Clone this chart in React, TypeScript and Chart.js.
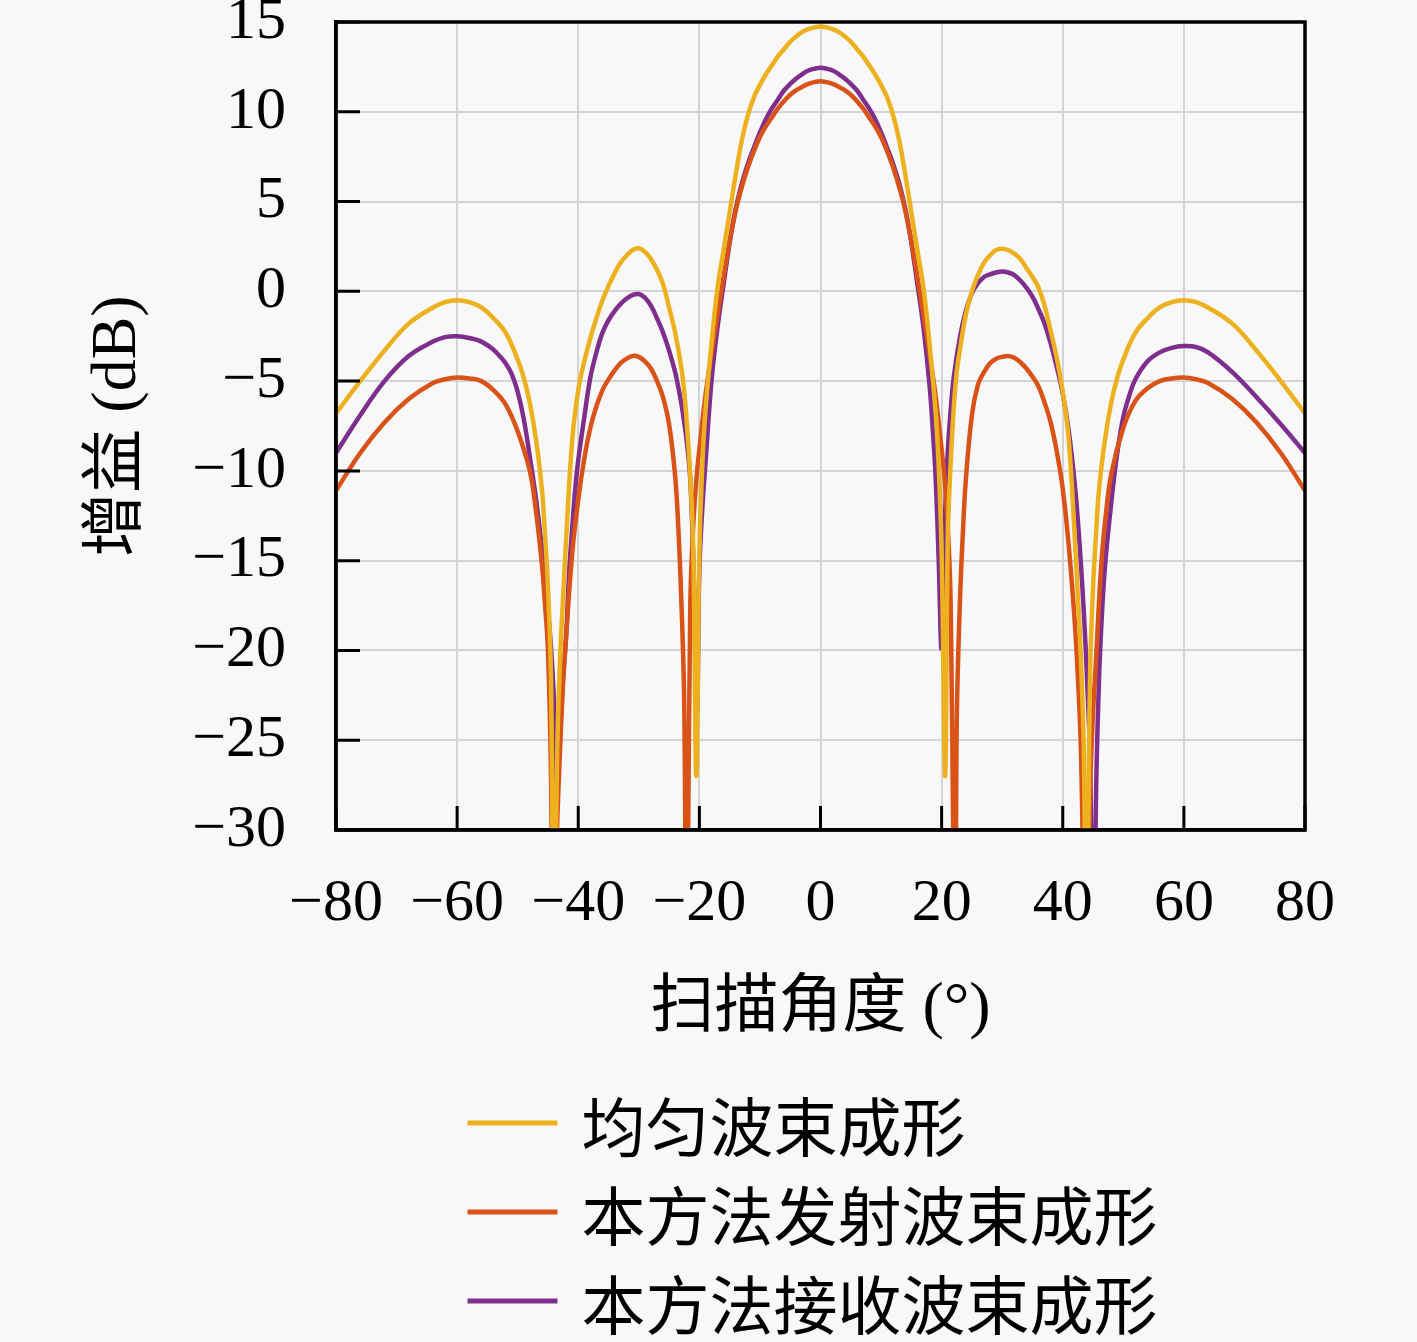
import { useEffect, useRef } from "react"
import Chart from "chart.js/auto"

// 扫描角度 (°) 与增益 (dB)
const uniformAngles = [
  -80, -76, -72, -68, -64, -62, -60, -58, -56, -54, -52, -50, -49, -48, -47, -46,
  -45.5, -45, -44.5, -44, -43.5, -43, -42.5, -42, -41, -40, -39, -38, -37, -36, -35, -34,
  -33, -32, -31, -30, -29, -28, -27, -26, -25, -24, -23, -22.5, -22, -21.5, -21, -20.5,
  -20, -19.5, -19, -18, -17, -16, -15, -14, -13, -12, -11, -10, -9, -8, -7, -6,
  -5, -4, -3, -2, -1, 0, 1, 2, 3, 4, 5, 6, 7, 8, 9, 10,
  11, 12, 13, 14, 15, 16, 17, 18, 19, 19.5, 20, 20.6, 21, 21.5, 22, 22.5,
  23, 24, 25, 26, 27, 28, 29, 30.5, 32, 33, 34, 35, 36, 37, 38, 39,
  40, 41, 42, 42.5, 43, 43.5, 43.9, 44.5, 45, 45.5, 46, 47, 48, 49, 50, 52,
  54, 56, 58, 60, 62, 64, 68, 72, 76, 80,
]
const uniformGain = [
  -6.8, -5.0, -3.3, -1.8, -0.9, -0.6, -0.5, -0.6, -0.9, -1.5, -2.3, -3.8, -4.8, -6.2, -8.2, -11.0,
  -13.5, -16.5, -21.5, -40, -26, -20.5, -17, -13.8, -8.3, -5.5, -3.9, -2.6, -1.5, -0.5, 0.3, 1.0,
  1.6, 2.0, 2.3, 2.4, 2.2, 1.8, 1.2, 0.4, -0.9, -2.3, -4.2, -5.6, -7.7, -10.3, -14.5, -27,
  -14.5, -9.6, -6.7, -2.9, 0.2, 2.3, 4.4, 6.5, 8.4, 9.8, 10.8, 11.5, 12.1, 12.6, 13.1, 13.5,
  13.9, 14.2, 14.45, 14.6, 14.7, 14.75, 14.7, 14.6, 14.45, 14.2, 13.9, 13.5, 13.1, 12.6, 12.1, 11.5,
  10.8, 9.8, 8.4, 6.5, 4.4, 2.3, 0.2, -2.9, -6.7, -9.6, -14.5, -27, -14, -9.5, -6.5, -4.5,
  -3.3, -1.3, 0.0, 0.9, 1.6, 2.0, 2.3, 2.35, 2.1, 1.8, 1.3, 0.8, 0.2, -0.8, -2.2, -3.7,
  -5.6, -8.3, -13.8, -17, -20.5, -26, -40, -21.5, -16.5, -13.5, -11.0, -8.2, -6.2, -4.8, -3.8, -2.3,
  -1.5, -0.9, -0.6, -0.5, -0.6, -0.9, -1.8, -3.3, -5.0, -6.8,
]

const transmitAngles = [
  -80, -76, -72, -68, -64, -62, -60, -58, -56, -54, -52, -50, -48, -47, -46, -45.5,
  -45, -44.5, -44.1, -43.5, -43, -42.5, -42, -41, -40, -39, -38, -37, -36, -35, -34, -33,
  -32, -31, -30, -29, -28, -27, -26, -25, -24, -23.5, -23, -22.5, -22.1, -21.5, -21, -20.5,
  -20, -19, -18, -17, -16, -15, -14, -13, -12, -11, -10, -9, -8, -7, -6, -5,
  -4, -3, -2, -1, 0, 1, 2, 3, 4, 5, 6, 7, 8, 9, 10, 11,
  12, 13, 14, 15, 16, 17, 18, 19, 20, 20.5, 21, 21.5, 22.2, 22.5, 23, 23.5,
  24, 25, 26, 27, 28, 29, 30, 31, 32, 33, 34, 35, 36, 37, 38, 39,
  40, 41, 42, 42.5, 43, 43.9, 44.5, 45, 45.5, 46, 46.5, 47, 48, 50, 52, 54,
  56, 58, 60, 62, 64, 68, 72, 76, 80,
]
const transmitGain = [
  -11.1, -9.0, -7.3, -6.0, -5.1, -4.9, -4.8, -4.85, -5.0, -5.5, -6.3, -7.8, -10.0, -12.2, -15.2, -17.4,
  -20, -27, -40, -30, -25.5, -21.8, -19.2, -14.6, -11.6, -9.3, -7.6, -6.4, -5.5, -4.9, -4.4, -4.0,
  -3.75, -3.6, -3.65, -3.9, -4.3, -5.0, -5.9, -7.4, -10.3, -13, -17, -23, -40, -17.5, -13, -10.5,
  -8.8, -5.8, -3.5, -1.3, 0.8, 2.8, 4.5, 5.8, 6.9, 7.8, 8.6, 9.2, 9.7, 10.2, 10.6, 10.95,
  11.2, 11.4, 11.55, 11.65, 11.7, 11.65, 11.55, 11.4, 11.2, 10.95, 10.6, 10.2, 9.7, 9.2, 8.6, 7.8,
  6.9, 5.8, 4.5, 2.8, 0.8, -1.3, -3.5, -5.8, -8.8, -10.5, -13, -17.5, -40, -24, -17.5, -13.5,
  -10.5, -6.9, -5.2, -4.5, -4.0, -3.75, -3.65, -3.6, -3.7, -3.95, -4.3, -4.75, -5.3, -6.2, -7.3, -8.9,
  -11, -14.2, -18.5, -21.5, -25.5, -40, -28, -23.5, -20.5, -17.2, -14.6, -12.8, -10.2, -7.6, -6.1, -5.4,
  -5.0, -4.85, -4.8, -4.9, -5.1, -6.0, -7.3, -9.0, -11.1,
]

const receiveAngles = [
  -80, -76, -72, -68, -64, -62, -60, -58, -56, -54, -53, -52, -51, -50, -49, -48,
  -47, -46, -45.5, -45, -44.5, -44, -43.5, -43, -42.5, -42, -41.5, -41, -40.5, -40, -39, -38,
  -37, -36, -35, -34, -33, -32, -31, -30, -29, -28, -27, -26, -25, -24, -23.5, -23,
  -22.5, -22, -21.5, -21, -20.4, -20, -19.5, -19, -18, -17, -16, -15, -14, -13, -12, -11,
  -10, -9, -8, -7, -6, -5, -4, -3, -2, -1, 0, 1, 2, 3, 4, 5,
  6, 7, 8, 9, 10, 11, 12, 13, 14, 15, 16, 17, 18, 18.5, 19, 19.5,
  20, 20.5, 21, 21.5, 22, 23, 24, 25, 26, 27, 28, 29, 30, 31, 32, 33,
  34, 35, 36, 37, 38, 39, 40, 41, 42, 42.5, 43, 43.5, 44, 44.5, 45.1, 45.5,
  46, 46.5, 47, 48, 49, 50, 51, 52, 54, 56, 58, 60, 62, 64, 68, 72,
  76, 80,
]
const receiveGain = [
  -9.0, -6.9, -5.0, -3.6, -2.8, -2.55, -2.5, -2.6, -2.8, -3.25, -3.6, -4.0, -4.6, -5.6, -7.1, -9.2,
  -11.5, -14.3, -16, -17.8, -19.8, -22.8, -27.5, -24.5, -21.5, -19.2, -15.6, -13.2, -11, -9.4, -7, -4.8,
  -3.4, -2.3, -1.6, -1.1, -0.7, -0.4, -0.2, -0.15, -0.35, -0.8, -1.5, -2.3, -3.3, -4.5, -5.3, -6.2,
  -7.3, -8.6, -10.5, -15, -23.5, -15.5, -12, -9.6, -5.0, -2.0, 0.4, 2.7, 4.6, 6.0, 7.1, 8.0,
  8.85, 9.6, 10.2, 10.7, 11.2, 11.55, 11.85, 12.1, 12.3, 12.4, 12.45, 12.4, 12.3, 12.1, 11.85, 11.55,
  11.2, 10.7, 10.2, 9.6, 8.85, 8.0, 7.1, 6.0, 4.6, 2.7, 0.4, -2.0, -5.2, -7.5, -10.3, -14.8,
  -19.9, -13, -9, -6.6, -4.8, -2.6, -1.1, -0.1, 0.45, 0.8, 0.95, 1.05, 1.1, 1.05, 0.9, 0.6,
  0.2, -0.3, -1.0, -1.8, -2.9, -4.2, -5.7, -7.8, -10.8, -12.8, -15.2, -18, -21.5, -26, -40, -28,
  -21.5, -17.8, -15.2, -11.8, -9.0, -7.0, -5.8, -4.9, -3.9, -3.4, -3.15, -3.05, -3.1, -3.4, -4.5, -5.9,
  -7.4, -9.0,
]

const seriesLabels = ["均匀波束成形", "本方法发射波束成形", "本方法接收波束成形"]
const seriesColors = ["#EDB120", "#D95319", "#7E2F8E"]

const xTicks = { min: -80, max: 80, step: 20 }
const yTicks = { min: -30, max: 15, step: 5 }

const SERIF = "'Liberation Serif', 'DejaVu Serif', serif"
const MIXED = "'Liberation Serif', 'Noto Sans CJK SC', serif"
const CJK = "'Noto Sans CJK SC', sans-serif"

const minus = (v: number) => (v < 0 ? "\u2212" + Math.abs(v) : String(v))

const toPoints = (xs: number[], ys: number[]) => xs.map((x, i) => ({ x, y: ys[i] }))

// 内向刻度、边框与图例
const frameAndLegend = {
  id: "frameAndLegend",
  afterDraw(chart: any) {
    const { ctx, chartArea: a, scales } = chart
    const tickLen = 24
    ctx.save()
    ctx.strokeStyle = "#000"
    ctx.lineWidth = 3
    ctx.beginPath()
    scales.x.ticks.forEach((t: any) => {
      const px = scales.x.getPixelForValue(t.value)
      ctx.moveTo(px, a.bottom)
      ctx.lineTo(px, a.bottom - tickLen)
    })
    scales.y.ticks.forEach((t: any) => {
      const py = scales.y.getPixelForValue(t.value)
      ctx.moveTo(a.left, py)
      ctx.lineTo(a.left + tickLen, py)
    })
    ctx.stroke()
    ctx.lineWidth = 3.5
    ctx.strokeRect(a.left, a.top, a.right - a.left, a.bottom - a.top)

    // 图例
    ctx.font = `64px ${CJK}`
    const lineLen = 90
    const gap = 24
    const maxW = Math.max(...chart.data.datasets.map((d: any) => ctx.measureText(d.label).width))
    const lx = (a.left + a.right) / 2 - (lineLen + gap + maxW) / 2 - 8
    chart.data.datasets.forEach((d: any, i: number) => {
      const yy = a.bottom + 293 + i * 89
      ctx.strokeStyle = d.borderColor
      ctx.lineWidth = 5
      ctx.beginPath()
      ctx.moveTo(lx, yy)
      ctx.lineTo(lx + lineLen, yy)
      ctx.stroke()
      ctx.fillStyle = "#000"
      ctx.textBaseline = "middle"
      ctx.textAlign = "left"
      ctx.fillText(d.label, lx + lineLen + gap, yy + 4)
    })
    ctx.restore()
  },
}

export default function App() {
  const canvasRef = useRef<HTMLCanvasElement>(null)

  useEffect(() => {
    if (!canvasRef.current) return
    const series = [
      toPoints(uniformAngles, uniformGain),
      toPoints(transmitAngles, transmitGain),
      toPoints(receiveAngles, receiveGain),
    ]
    const chart = new Chart(canvasRef.current, {
      type: "line",
      data: {
        datasets: series.map((data, i) => ({
          label: seriesLabels[i],
          data,
          borderColor: seriesColors[i],
          backgroundColor: seriesColors[i],
          borderWidth: 4.5,
          pointRadius: 0,
          fill: false,
          tension: 0.4,
        })),
      },
      options: {
        animation: false,
        responsive: true,
        maintainAspectRatio: false,
        layout: { padding: { top: 22, right: 112, left: 0, bottom: 292 } },
        plugins: { legend: { display: false }, tooltip: { enabled: false } },
        scales: {
          x: {
            type: "linear",
            min: xTicks.min,
            max: xTicks.max,
            afterFit: (s: any) => {
              s.height = 220
              s.paddingLeft = 0
              s.paddingRight = 0
            },
            ticks: {
              stepSize: xTicks.step,
              padding: 38,
              color: "#000",
              font: { family: SERIF, size: 60 },
              callback: (v: any) => minus(Number(v)),
            },
            grid: { color: "#d4d4d4", lineWidth: 2, drawTicks: false },
            border: { display: true, color: "#000", width: 3.5 },
            title: {
              display: true,
              text: "扫描角度 (°)",
              color: "#000",
              font: { family: MIXED, size: 64 },
              padding: { top: 0, bottom: 2 },
            },
          },
          y: {
            type: "linear",
            min: yTicks.min,
            max: yTicks.max,
            afterFit: (s: any) => {
              s.width = 336
              s.paddingTop = 0
              s.paddingBottom = 0
            },
            ticks: {
              stepSize: yTicks.step,
              padding: 50,
              color: "#000",
              font: { family: SERIF, size: 60 },
              callback: (v: any) => minus(Number(v)),
            },
            grid: { color: "#d4d4d4", lineWidth: 2, drawTicks: false },
            border: { display: true, color: "#000", width: 3.5 },
            title: {
              display: true,
              text: "增益 (dB)",
              color: "#000",
              font: { family: MIXED, size: 64 },
              padding: { top: 80, bottom: 0 },
            },
          },
        },
      },
      plugins: [frameAndLegend],
    })
    return () => chart.destroy()
  }, [])

  return (
    <div style={{ position: "fixed", left: 0, top: 0, width: 1417, height: 1342, background: "#f8f8f8" }}>
      <canvas ref={canvasRef} />
    </div>
  )
}
